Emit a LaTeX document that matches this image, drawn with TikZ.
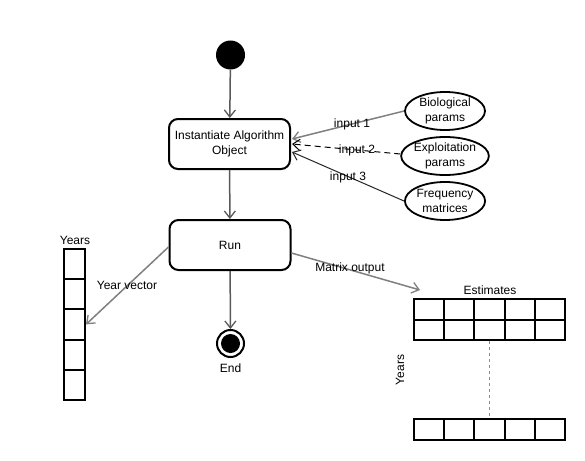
\documentclass[tikz,border=0pt]{standalone}
\usepackage{fontspec}
\setmainfont{Liberation Sans}
\usetikzlibrary{arrows.meta,shapes.geometric,calc}
\begin{document}
\begin{tikzpicture}[x=1pt,y=-1pt,
  every node/.style={font=\fontsize{12}{14.5}\selectfont},
  actbox/.style={draw,line width=2pt,rounded corners=9pt,minimum width=121pt,minimum height=50pt,align=center,inner sep=0pt},
  ell/.style={draw,ellipse,line width=1.8pt,minimum width=80pt,minimum height=38pt,align=center,inner sep=0pt},
  cell/.style={draw,line width=2pt,inner sep=0pt},
  vcell/.style={cell,minimum width=21pt,minimum height=30.2pt},
  hcell/.style={cell,minimum width=30.2pt,minimum height=20.5pt},
  tip/.style={-{Straight Barb[length=7pt,width=11pt,line width=1.3pt]}},
  flow/.style={draw=black!65,line width=1.5pt,tip},
  lbl/.style={inner sep=0pt},
]
\fill[white] (0,0) rectangle (585,460);
\useasboundingbox (0,0) rectangle (585,460);

% activity nodes
\node[circle,fill=black,minimum size=29pt,inner sep=0pt] (start) at (230.5,55) {};
\node[actbox] (inst) at (229.5,144) {Instantiate Algorithm\\Object};
\node[actbox] (run) at (230,245) {Run};
\node[circle,draw,line width=2pt,minimum size=27pt,inner sep=0pt] (end) at (230.5,343.5) {};
\node[circle,fill=black,minimum size=19pt,inner sep=0pt] (endin) at (end.center) {};
\node[lbl] (endlbl) at (230.5,368) {End};

% inputs
\node[ell] (bio) at (445,111) {Biological\\params};
\node[ell] (expl) at (445,156) {Exploitation\\params};
\node[ell] (freq) at (445,201) {Frequency\\matrices};

\draw[flow] (start) -- (inst);
\draw[flow] (inst) -- (run);
\draw[flow] (run) -- (end);

\draw[draw=black!50,line width=1.5pt,tip] (bio.west) -- ([yshift=5pt,xshift=1pt]inst.east);
\draw[draw=black,line width=1pt,dash pattern=on 6pt off 4pt,-{Straight Barb[length=7pt,width=11pt,line width=1pt]}] ([yshift=2pt]expl.west) -- ([xshift=1pt]inst.east);
\draw[draw=black!85,line width=1pt,-{Straight Barb[length=7pt,width=11pt,line width=1pt]}] (freq.west) -- ([yshift=-8pt,xshift=1pt]inst.east);
\node[lbl] (in1) at (352,124) {input 1};
\node[lbl] (in2) at (357,150) {input 2};
\node[lbl] (in3) at (348,177) {input 3};

% year vector
\node[lbl] (ylbl) at (75,240) {Years};
\node[vcell] (v1) at (74.5,264) {};
\node[vcell] (v2) at (74.5,294.2) {};
\node[vcell] (v3) at (74.5,324.4) {};
\node[vcell] (v4) at (74.5,354.6) {};
\node[vcell] (v5) at (74.5,384.8) {};
\draw[draw=black!50,line width=1.5pt,tip] ([yshift=-2pt]run.west) -- (v3.east);
\node[lbl] (yvlbl) at (127,285) {Year vector};

% estimates matrix
\coordinate (mout) at (420,290);
\draw[draw=black!50,line width=1.5pt,tip] ([yshift=-8pt]run.east) -- (mout);
\node[lbl] (molbl) at (350,268) {Matrix output};
\node[lbl] (estlbl) at (490,290) {Estimates};
\foreach \i/\x in {1/429.1,2/459.3,3/489.5,4/519.7,5/549.9}{
  \node[hcell] (a\i) at (\x,309.5) {};
  \node[hcell] (b\i) at (\x,330) {};
  \node[hcell] (c\i) at (\x,429.5) {};
}
\draw[draw=black!45,line width=1.3pt,dash pattern=on 3pt off 3pt] (b3.south) -- (c3.north);
\node[lbl,rotate=90] (yrot) at (400,370) {Years};
\end{tikzpicture}
\end{document}
